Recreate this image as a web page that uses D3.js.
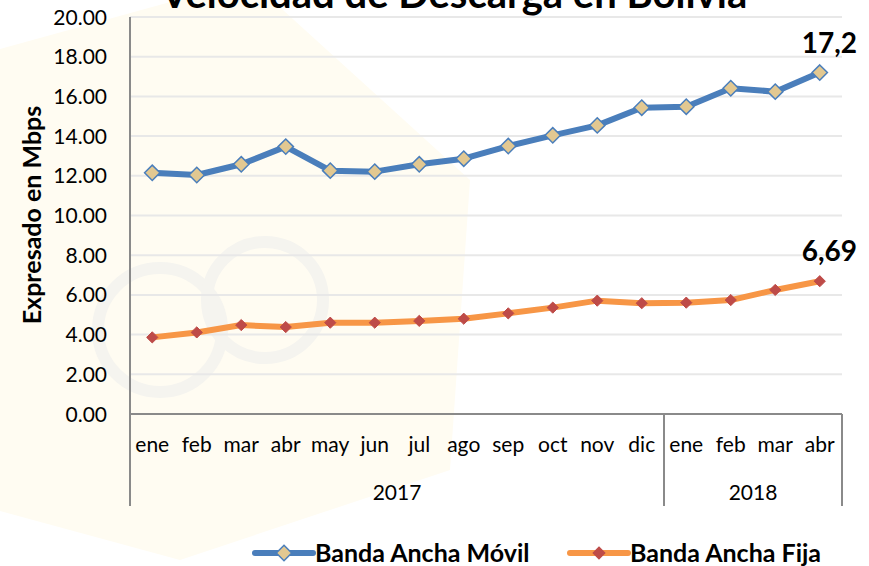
<!DOCTYPE html>
<html lang="es">
<head>
<meta charset="utf-8">
<script src="https://d3js.org/d3.v7.min.js"></script>
<style>
  body { margin: 0; background: #ffffff; }
  svg { font-family: Lato, "Open Sans", sans-serif; }
</style>
</head>
<body>
<div id="chart"></div>
<script>
// data
var months = ["ene","feb","mar","abr","may","jun","jul","ago","sep","oct","nov","dic","ene","feb","mar","abr"];
var years = [{label: "2017", from: 0, to: 11}, {label: "2018", from: 12, to: 15}];
var movil = [12.15, 12.04, 12.58, 13.47, 12.26, 12.21, 12.58, 12.86, 13.50, 14.04, 14.54, 15.43, 15.48, 16.41, 16.24, 17.20];
var fija  = [3.86, 4.11, 4.48, 4.38, 4.60, 4.60, 4.69, 4.80, 5.07, 5.36, 5.71, 5.58, 5.61, 5.74, 6.25, 6.69];
var yTicks = [0, 2, 4, 6, 8, 10, 12, 14, 16, 18, 20];
var lastLabels = ["17,2", "6,69"];

var W = 869, H = 566;
var margin = {top: 17, right: 27, bottom: 152, left: 130};
var x0 = margin.left, x1 = W - margin.right;
var yTop = margin.top, yBot = H - margin.bottom;
var axisBottom = 506;

var svg = d3.select("#chart").append("svg")
    .attr("width", W).attr("height", H);

// very faint watermark behind the chart
var wm = svg.append("g");
wm.append("path")
  .attr("d", "M-40,60 L250,-20 L470,180 L450,470 L180,560 L-40,500 Z")
  .attr("fill", "#fffcf2");
wm.selectAll("circle").data([[160, 330, 62], [265, 300, 58]]).enter().append("circle")
  .attr("cx", function(d){ return d[0]; }).attr("cy", function(d){ return d[1]; })
  .attr("r", function(d){ return d[2]; })
  .attr("fill", "none").attr("stroke", "#f5f4ef").attr("stroke-width", 12);

var x = d3.scaleBand().domain(d3.range(months.length)).range([x0, x1]);
var cx = function(i){ return x(i) + x.bandwidth() / 2; };
var y = d3.scaleLinear().domain([0, 20]).range([yBot, yTop]);

// gridlines
svg.append("g").selectAll("line").data(yTicks.slice(1)).enter().append("line")
  .attr("x1", x0).attr("x2", x1)
  .attr("y1", function(d){ return y(d); }).attr("y2", function(d){ return y(d); })
  .attr("stroke", "#e8e8e8").attr("stroke-width", 2);

// y tick labels
svg.append("g").selectAll("text").data(yTicks).enter().append("text")
  .attr("x", 107).attr("y", function(d){ return y(d); })
  .attr("dy", "0.36em")
  .attr("text-anchor", "end")
  .attr("font-size", 21).attr("fill", "#000")
  .text(function(d){ return d3.format(".2f")(d); });

// axes
var axisColor = "#8a8a8a";
svg.append("line").attr("x1", x0).attr("x2", x0).attr("y1", yTop).attr("y2", axisBottom)
  .attr("stroke", axisColor).attr("stroke-width", 2);
svg.append("line").attr("x1", x0).attr("x2", x1).attr("y1", yBot).attr("y2", yBot)
  .attr("stroke", axisColor).attr("stroke-width", 2);
years.forEach(function(g){
  var xe = x(g.to) + x.bandwidth();
  svg.append("line").attr("x1", xe).attr("x2", xe).attr("y1", yBot).attr("y2", axisBottom)
    .attr("stroke", axisColor).attr("stroke-width", 2);
});

// month labels
svg.append("g").selectAll("text").data(months).enter().append("text")
  .attr("x", function(d, i){ return cx(i); }).attr("y", 452)
  .attr("text-anchor", "middle").attr("font-size", 21)
  .text(function(d){ return d; });

// year labels
svg.append("g").selectAll("text").data(years).enter().append("text")
  .attr("x", function(g){ return (x(g.from) + x(g.to) + x.bandwidth()) / 2; })
  .attr("y", 500)
  .attr("text-anchor", "middle").attr("font-size", 21)
  .text(function(g){ return g.label; });

// y axis title
svg.append("text")
  .attr("transform", "translate(41,215) rotate(-90)")
  .attr("text-anchor", "middle").attr("font-size", 25).attr("font-weight", "bold")
  .text("Expresado en Mbps");

// title (partly cut off at the top, like the original)
svg.append("text")
  .attr("x", 454).attr("y", 8)
  .attr("text-anchor", "middle").attr("font-size", 40).attr("font-weight", "bold")
  .text("Velocidad  de Descarga en Bolivia");

var line = d3.line().x(function(d, i){ return cx(i); }).y(function(d){ return y(d); });
var diamond = d3.symbol().type(d3.symbolDiamond2);

// Banda Ancha Movil
svg.append("path").datum(movil).attr("d", line)
  .attr("fill", "none").attr("stroke", "#4a7ebb").attr("stroke-width", 6)
  .attr("stroke-linejoin", "round");
svg.append("g").selectAll("path").data(movil).enter().append("path")
  .attr("transform", function(d, i){ return "translate(" + cx(i) + "," + y(d) + ")"; })
  .attr("d", diamond.size(150))
  .attr("fill", "#e2c891").attr("stroke", "#4a7ebb").attr("stroke-width", 1.5);

// Banda Ancha Fija
svg.append("path").datum(fija).attr("d", line)
  .attr("fill", "none").attr("stroke", "#f79646").attr("stroke-width", 6)
  .attr("stroke-linejoin", "round");
svg.append("g").selectAll("path").data(fija).enter().append("path")
  .attr("transform", function(d, i){ return "translate(" + cx(i) + "," + y(d) + ")"; })
  .attr("d", diamond.size(80))
  .attr("fill", "#be4b48").attr("stroke", "#be4b48").attr("stroke-width", 1);

// end labels
var last = months.length - 1;
[movil[last], fija[last]].forEach(function(v, k){
  svg.append("text")
    .attr("x", 857).attr("y", y(v) - 20)
    .attr("text-anchor", "end").attr("font-size", 28).attr("font-weight", "bold")
    .text(lastLabels[k]);
});

// legend
var legend = [
  {name: "Banda Ancha Móvil", x: 255, stroke: "#4a7ebb", fill: "#e2c891", size: 150},
  {name: "Banda Ancha Fija", x: 570, stroke: "#f79646", fill: "#be4b48", size: 80}
];
var lg = svg.append("g").selectAll("g").data(legend).enter().append("g")
  .attr("transform", function(d){ return "translate(" + d.x + ",553)"; });
lg.append("line").attr("x1", 0).attr("x2", 58).attr("y1", 0).attr("y2", 0)
  .attr("stroke", function(d){ return d.stroke; }).attr("stroke-width", 6)
  .attr("stroke-linecap", "round");
lg.append("path").attr("transform", "translate(29,0)")
  .attr("d", function(d){ return diamond.size(d.size)(); })
  .attr("fill", function(d){ return d.fill; })
  .attr("stroke", function(d, i){ return i === 0 ? d.stroke : d.fill; }).attr("stroke-width", 1.5);
lg.append("text").attr("x", 60).attr("y", 0).attr("dy", "0.36em")
  .attr("font-size", 25).attr("font-weight", "bold")
  .text(function(d){ return d.name; });
</script>
</body>
</html>
